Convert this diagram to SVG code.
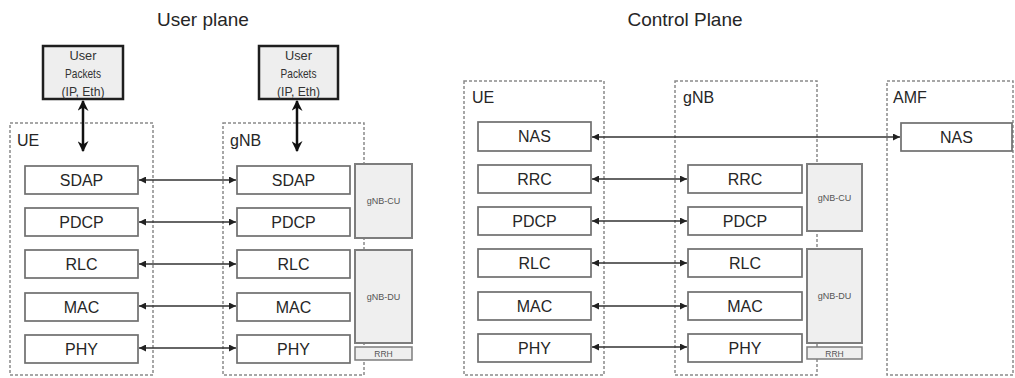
<svg xmlns="http://www.w3.org/2000/svg" width="1015" height="378" viewBox="0 0 1015 378">
<style>
text{font-family:"Liberation Sans",Arial,sans-serif;fill:#262626}
.title{font-size:19px;text-anchor:middle}
.lbl{font-size:16px}
.bt{font-size:16px;text-anchor:middle}
.sm{font-size:9px;text-anchor:middle;fill:#555}
.pk{font-size:13.5px;text-anchor:middle;fill:#333}
.dash{fill:none;stroke:#8a8a8a;stroke-width:1.5;stroke-dasharray:3 2}
.box{fill:#fff;stroke:#6f6f6f;stroke-width:1.7}
.grey{fill:#efefef;stroke:#7d7d7d;stroke-width:2}
.pkt{fill:#eeeeee;stroke:#1e1e1e;stroke-width:2.5}
.h{stroke:#333;stroke-width:1.4;fill:none;marker-start:url(#ah);marker-end:url(#ah)}
.v{stroke:#111;stroke-width:2.5;fill:none;marker-start:url(#av);marker-end:url(#av)}
</style>
<defs>
<marker id="ah" viewBox="0 0 10 10" refX="10" refY="5" markerWidth="7" markerHeight="7" markerUnits="userSpaceOnUse" orient="auto-start-reverse"><path d="M0,0 L10,5 L0,10 z" fill="#222"/></marker>
<marker id="av" viewBox="0 0 10 10" refX="9" refY="5" markerWidth="11" markerHeight="11" markerUnits="userSpaceOnUse" orient="auto-start-reverse"><path d="M0,0 L10,5 L0,10 L3,5 z" fill="#111"/></marker>
</defs>

<text class="title" x="203" y="26">User plane</text>
<text class="title" x="685" y="26">Control Plane</text>

<!-- containers -->
<g id="up-ue">
<rect class="dash" x="10" y="123" width="143" height="252"/>
<text class="lbl" x="17" y="146">UE</text>
</g>
<g id="up-gnb">
<rect class="dash" x="223" y="123" width="141" height="252"/>
<text class="lbl" x="230" y="146">gNB</text>
</g>
<g id="cp-ue">
<rect class="dash" x="464" y="81" width="140" height="294"/>
<text class="lbl" x="472" y="103">UE</text>
</g>
<g id="cp-gnb">
<rect class="dash" x="675" y="81" width="142" height="294"/>
<text class="lbl" x="683" y="103">gNB</text>
</g>
<g id="cp-amf">
<rect class="dash" x="887" y="81" width="126" height="294"/>
<text class="lbl" x="893" y="103">AMF</text>
</g>

<!-- user packets -->
<g id="pkt-ue">
<rect class="pkt" x="43" y="46" width="80" height="53"/>
<text class="pk" x="83" y="60" textLength="27" lengthAdjust="spacingAndGlyphs">User</text>
<text class="pk" x="83" y="78" textLength="36" lengthAdjust="spacingAndGlyphs">Packets</text>
<text class="pk" x="83" y="96" textLength="43" lengthAdjust="spacingAndGlyphs">(IP, Eth)</text>
</g>
<g id="pkt-gnb">
<rect class="pkt" x="259" y="46" width="79" height="53"/>
<text class="pk" x="298.5" y="60" textLength="27" lengthAdjust="spacingAndGlyphs">User</text>
<text class="pk" x="298.5" y="78" textLength="36" lengthAdjust="spacingAndGlyphs">Packets</text>
<text class="pk" x="298.5" y="96" textLength="43" lengthAdjust="spacingAndGlyphs">(IP, Eth)</text>
</g>

<!-- user plane UE stack -->
<g id="up-ue-sdap"><rect class="box" x="25" y="166" width="113" height="28"/><text class="bt" x="81.5" y="185.7">SDAP</text></g>
<g id="up-ue-pdcp"><rect class="box" x="25" y="208" width="113" height="28"/><text class="bt" x="81.5" y="227.7">PDCP</text></g>
<g id="up-ue-rlc"><rect class="box" x="25" y="250" width="113" height="28"/><text class="bt" x="81.5" y="269.7">RLC</text></g>
<g id="up-ue-mac"><rect class="box" x="25" y="293" width="113" height="28"/><text class="bt" x="81.5" y="312.7">MAC</text></g>
<g id="up-ue-phy"><rect class="box" x="25" y="335" width="113" height="28"/><text class="bt" x="81.5" y="354.7">PHY</text></g>

<!-- user plane gNB stack -->
<g id="up-gnb-sdap"><rect class="box" x="237" y="166" width="113" height="28"/><text class="bt" x="293.5" y="185.7">SDAP</text></g>
<g id="up-gnb-pdcp"><rect class="box" x="237" y="208" width="113" height="28"/><text class="bt" x="293.5" y="227.7">PDCP</text></g>
<g id="up-gnb-rlc"><rect class="box" x="237" y="250" width="113" height="28"/><text class="bt" x="293.5" y="269.7">RLC</text></g>
<g id="up-gnb-mac"><rect class="box" x="237" y="293" width="113" height="28"/><text class="bt" x="293.5" y="312.7">MAC</text></g>
<g id="up-gnb-phy"><rect class="box" x="237" y="335" width="113" height="28"/><text class="bt" x="293.5" y="354.7">PHY</text></g>

<g id="up-cu"><rect class="grey" x="355" y="164" width="57" height="74"/><text class="sm" x="383.5" y="204">gNB-CU</text></g>
<g id="up-du"><rect class="grey" x="355" y="250" width="57" height="93"/><text class="sm" x="383.5" y="300">gNB-DU</text></g>
<g id="up-rrh"><rect class="grey" x="355" y="347" width="57" height="13" style="stroke-width:1.5"/><text class="sm" x="383.5" y="357" style="font-size:8.5px">RRH</text></g>

<!-- control plane UE stack -->
<g id="cp-ue-nas"><rect class="box" x="478" y="122" width="113" height="29"/><text class="bt" x="534.5" y="142.2">NAS</text></g>
<g id="cp-ue-rrc"><rect class="box" x="478" y="165" width="113" height="28"/><text class="bt" x="534.5" y="184.7">RRC</text></g>
<g id="cp-ue-pdcp"><rect class="box" x="478" y="207" width="113" height="28"/><text class="bt" x="534.5" y="226.7">PDCP</text></g>
<g id="cp-ue-rlc"><rect class="box" x="478" y="249" width="113" height="28"/><text class="bt" x="534.5" y="268.7">RLC</text></g>
<g id="cp-ue-mac"><rect class="box" x="478" y="292" width="113" height="28"/><text class="bt" x="534.5" y="311.7">MAC</text></g>
<g id="cp-ue-phy"><rect class="box" x="478" y="334" width="113" height="28"/><text class="bt" x="534.5" y="353.7">PHY</text></g>

<!-- control plane gNB stack -->
<g id="cp-gnb-rrc"><rect class="box" x="688" y="165" width="114" height="28"/><text class="bt" x="745" y="184.7">RRC</text></g>
<g id="cp-gnb-pdcp"><rect class="box" x="688" y="207" width="114" height="28"/><text class="bt" x="745" y="226.7">PDCP</text></g>
<g id="cp-gnb-rlc"><rect class="box" x="688" y="249" width="114" height="28"/><text class="bt" x="745" y="268.7">RLC</text></g>
<g id="cp-gnb-mac"><rect class="box" x="688" y="292" width="114" height="28"/><text class="bt" x="745" y="311.7">MAC</text></g>
<g id="cp-gnb-phy"><rect class="box" x="688" y="334" width="114" height="28"/><text class="bt" x="745" y="353.7">PHY</text></g>

<g id="cp-cu"><rect class="grey" x="807" y="164" width="55" height="67"/><text class="sm" x="834.5" y="201">gNB-CU</text></g>
<g id="cp-du"><rect class="grey" x="807" y="249" width="55" height="94"/><text class="sm" x="834.5" y="299">gNB-DU</text></g>
<g id="cp-rrh"><rect class="grey" x="807" y="347" width="55" height="12" style="stroke-width:1.5"/><text class="sm" x="834.5" y="356.5" style="font-size:8.5px">RRH</text></g>

<g id="cp-amf-nas"><rect class="box" x="901" y="123" width="111" height="28"/><text class="bt" x="956.5" y="142.7">NAS</text></g>

<!-- connectors -->
<g id="connectors">
<line class="v" x1="83" y1="101" x2="83" y2="151"/>
<line class="v" x1="297" y1="101" x2="297" y2="151"/>
<line class="h" x1="139" y1="180" x2="236" y2="180"/>
<line class="h" x1="139" y1="222" x2="236" y2="222"/>
<line class="h" x1="139" y1="264" x2="236" y2="264"/>
<line class="h" x1="139" y1="306" x2="236" y2="306"/>
<line class="h" x1="139" y1="348" x2="236" y2="348"/>
<line class="h" x1="592" y1="137" x2="900" y2="137"/>
<line class="h" x1="592" y1="179" x2="687" y2="179"/>
<line class="h" x1="592" y1="221" x2="687" y2="221"/>
<line class="h" x1="592" y1="263" x2="687" y2="263"/>
<line class="h" x1="592" y1="306" x2="687" y2="306"/>
<line class="h" x1="592" y1="347" x2="687" y2="347"/>
</g>
</svg>
